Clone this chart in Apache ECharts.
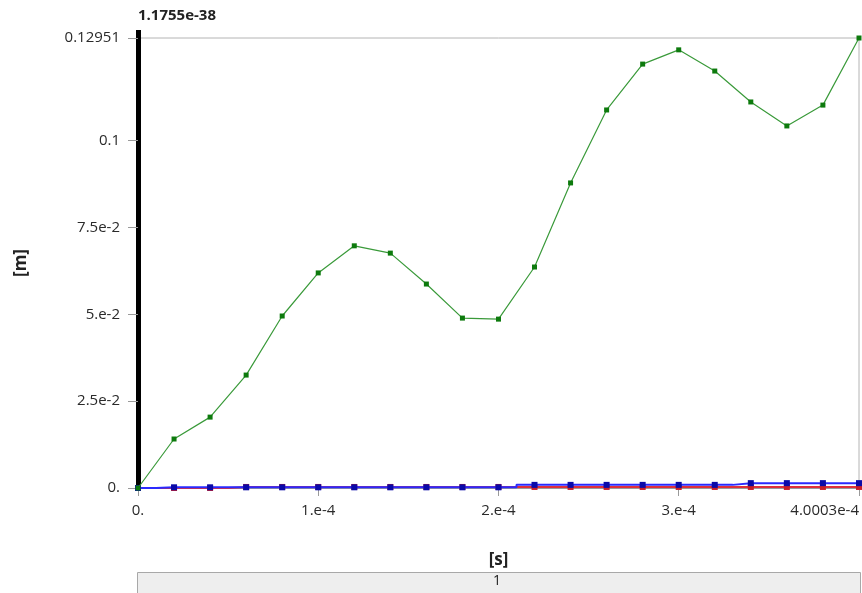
<!DOCTYPE html>
<html>
<head>
<meta charset="utf-8">
<script src="https://cdn.jsdelivr.net/npm/echarts@6/dist/echarts.min.js"></script>
<style>
  html, body { margin: 0; padding: 0; background: #fff; }
  #chart { width: 862px; height: 593px; }
</style>
</head>
<body>
<div id="chart"></div>
<script>
// Time values [s]
const timeValues = [0, 2e-5, 4e-5, 6e-5, 8e-5, 1e-4, 1.2e-4, 1.4e-4, 1.6e-4, 1.8e-4, 2e-4,
                    2.2e-4, 2.4e-4, 2.6e-4, 2.8e-4, 3e-4, 3.2e-4, 3.4e-4, 3.6e-4, 3.8e-4, 4.0003e-4];
// Series values [m]
const greenValues = [0, 0.0141, 0.0204, 0.0325, 0.0495, 0.0619, 0.0697, 0.0676, 0.0587, 0.0489, 0.0486,
                     0.0636, 0.0878, 0.1088, 0.1220, 0.1261, 0.1200, 0.1111, 0.1042, 0.1102, 0.12951];
const blueValues  = [0, 0.0002, 0.0002, 0.0002, 0.0002, 0.0002, 0.0002, 0.0002, 0.0002, 0.0002, 0.0002,
                     0.0009, 0.0009, 0.0009, 0.0009, 0.0009, 0.0009, 0.0014, 0.0014, 0.0014, 0.0014];
const redValues   = [0, 0, 0, 0.0003, 0.0003, 0.0003, 0.0003, 0.0003, 0.0003, 0.0003, 0.0003,
                     0.0003, 0.0003, 0.0003, 0.0003, 0.0003, 0.0003, 0.0003, 0.0003, 0.0003, 0.0003];
// Tick values and labels
const xTickValues = [0, 1e-4, 2e-4, 3e-4, 4.0003e-4];
const xTickLabels = ['0.', '1.e-4', '2.e-4', '3.e-4', '4.0003e-4'];
const yTickValues = [0, 0.025, 0.05, 0.075, 0.1, 0.12951];
const yTickLabels = ['0.', '2.5e-2', '5.e-2', '7.5e-2', '0.1', '0.12951'];
const topLabel = '1.1755e-38';
const xName = '[s]';
const yName = '[m]';
const footerLabel = '1';

const pairs = vals => vals.map((v, i) => [timeValues[i], v]);
const labelFor = (vals, labels) => v => {
  for (let i = 0; i < vals.length; i++) {
    if (Math.abs(vals[i] - v) < 1e-9) return labels[i];
  }
  return '';
};

const chart = echarts.init(document.getElementById('chart'), null, { renderer: 'canvas' });
const FONT = '"Open Sans", "Noto Sans", sans-serif';

chart.setOption({
  animation: false,
  backgroundColor: '#ffffff',
  textStyle: { fontFamily: FONT },
  grid: {
    left: 138, right: 2, top: 38, bottom: 105,
    show: true, borderColor: '#b4b4b4', borderWidth: 1, backgroundColor: 'transparent'
  },
  xAxis: {
    type: 'value',
    min: 0, max: 4.0003e-4,
    name: xName,
    nameLocation: 'middle',
    nameGap: 64,
    nameTextStyle: { fontFamily: FONT, fontWeight: 'bold', fontSize: 17, color: '#222' },
    axisLine: { show: true, lineStyle: { color: '#9a9a9a', width: 1 } },
    axisTick: { show: true, length: 8, customValues: xTickValues, lineStyle: { color: '#9a9a9a' } },
    axisLabel: {
      customValues: xTickValues,
      formatter: labelFor(xTickValues, xTickLabels),
      margin: 15, fontSize: 15, color: '#2a2a2a', fontFamily: FONT,
      alignMaxLabel: 'right'
    },
    splitLine: { show: false }
  },
  yAxis: {
    type: 'value',
    min: 0, max: 0.12951,
    name: yName,
    nameLocation: 'middle',
    nameRotate: 90,
    nameGap: 108,
    nameTextStyle: { fontFamily: FONT, fontWeight: 'bold', fontSize: 17, color: '#222' },
    axisLine: { show: true, lineStyle: { color: '#000', width: 5 } },
    axisTick: { show: true, length: 10, customValues: yTickValues, lineStyle: { color: '#9a9a9a' } },
    axisLabel: {
      customValues: yTickValues,
      formatter: labelFor(yTickValues, yTickLabels),
      margin: 18, fontSize: 15, color: '#2a2a2a', fontFamily: FONT
    },
    splitLine: { show: false }
  },
  series: [
    {
      type: 'line', name: 'red', data: pairs(redValues), step: 'middle',
      symbol: 'rect', symbolSize: 6, showAllSymbol: true,
      lineStyle: { color: '#e0303a', width: 2 }, itemStyle: { color: '#c81e28' }, z: 2
    },
    {
      type: 'line', name: 'blue', data: pairs(blueValues), step: 'middle',
      symbol: 'rect', symbolSize: 6, showAllSymbol: true,
      lineStyle: { color: '#2a2aff', width: 2 }, itemStyle: { color: '#0a0aa8' }, z: 3
    },
    {
      type: 'line', name: 'green', data: pairs(greenValues),
      symbol: 'rect', symbolSize: 5, showAllSymbol: true,
      lineStyle: { color: '#3a9a3a', width: 1.2 }, itemStyle: { color: '#0d7a0d' }, z: 4
    }
  ],
  graphic: [
    {
      type: 'rect', left: 136, top: 30,
      shape: { width: 5, height: 9 },
      style: { fill: '#000' }
    },
    {
      type: 'text', left: 138, top: 8,
      style: { text: topLabel, fontFamily: FONT, fontWeight: 'bold', fontSize: 15, fill: '#222' }
    },
    {
      type: 'rect', left: 137, top: 572,
      shape: { width: 723, height: 22 },
      style: { fill: '#eeeeee', stroke: '#a8a8a8', lineWidth: 1 }
    },
    {
      type: 'text', left: 493, top: 574,
      style: { text: footerLabel, fontFamily: FONT, fontSize: 14, fill: '#222' }
    }
  ]
});
</script>
</body>
</html>
